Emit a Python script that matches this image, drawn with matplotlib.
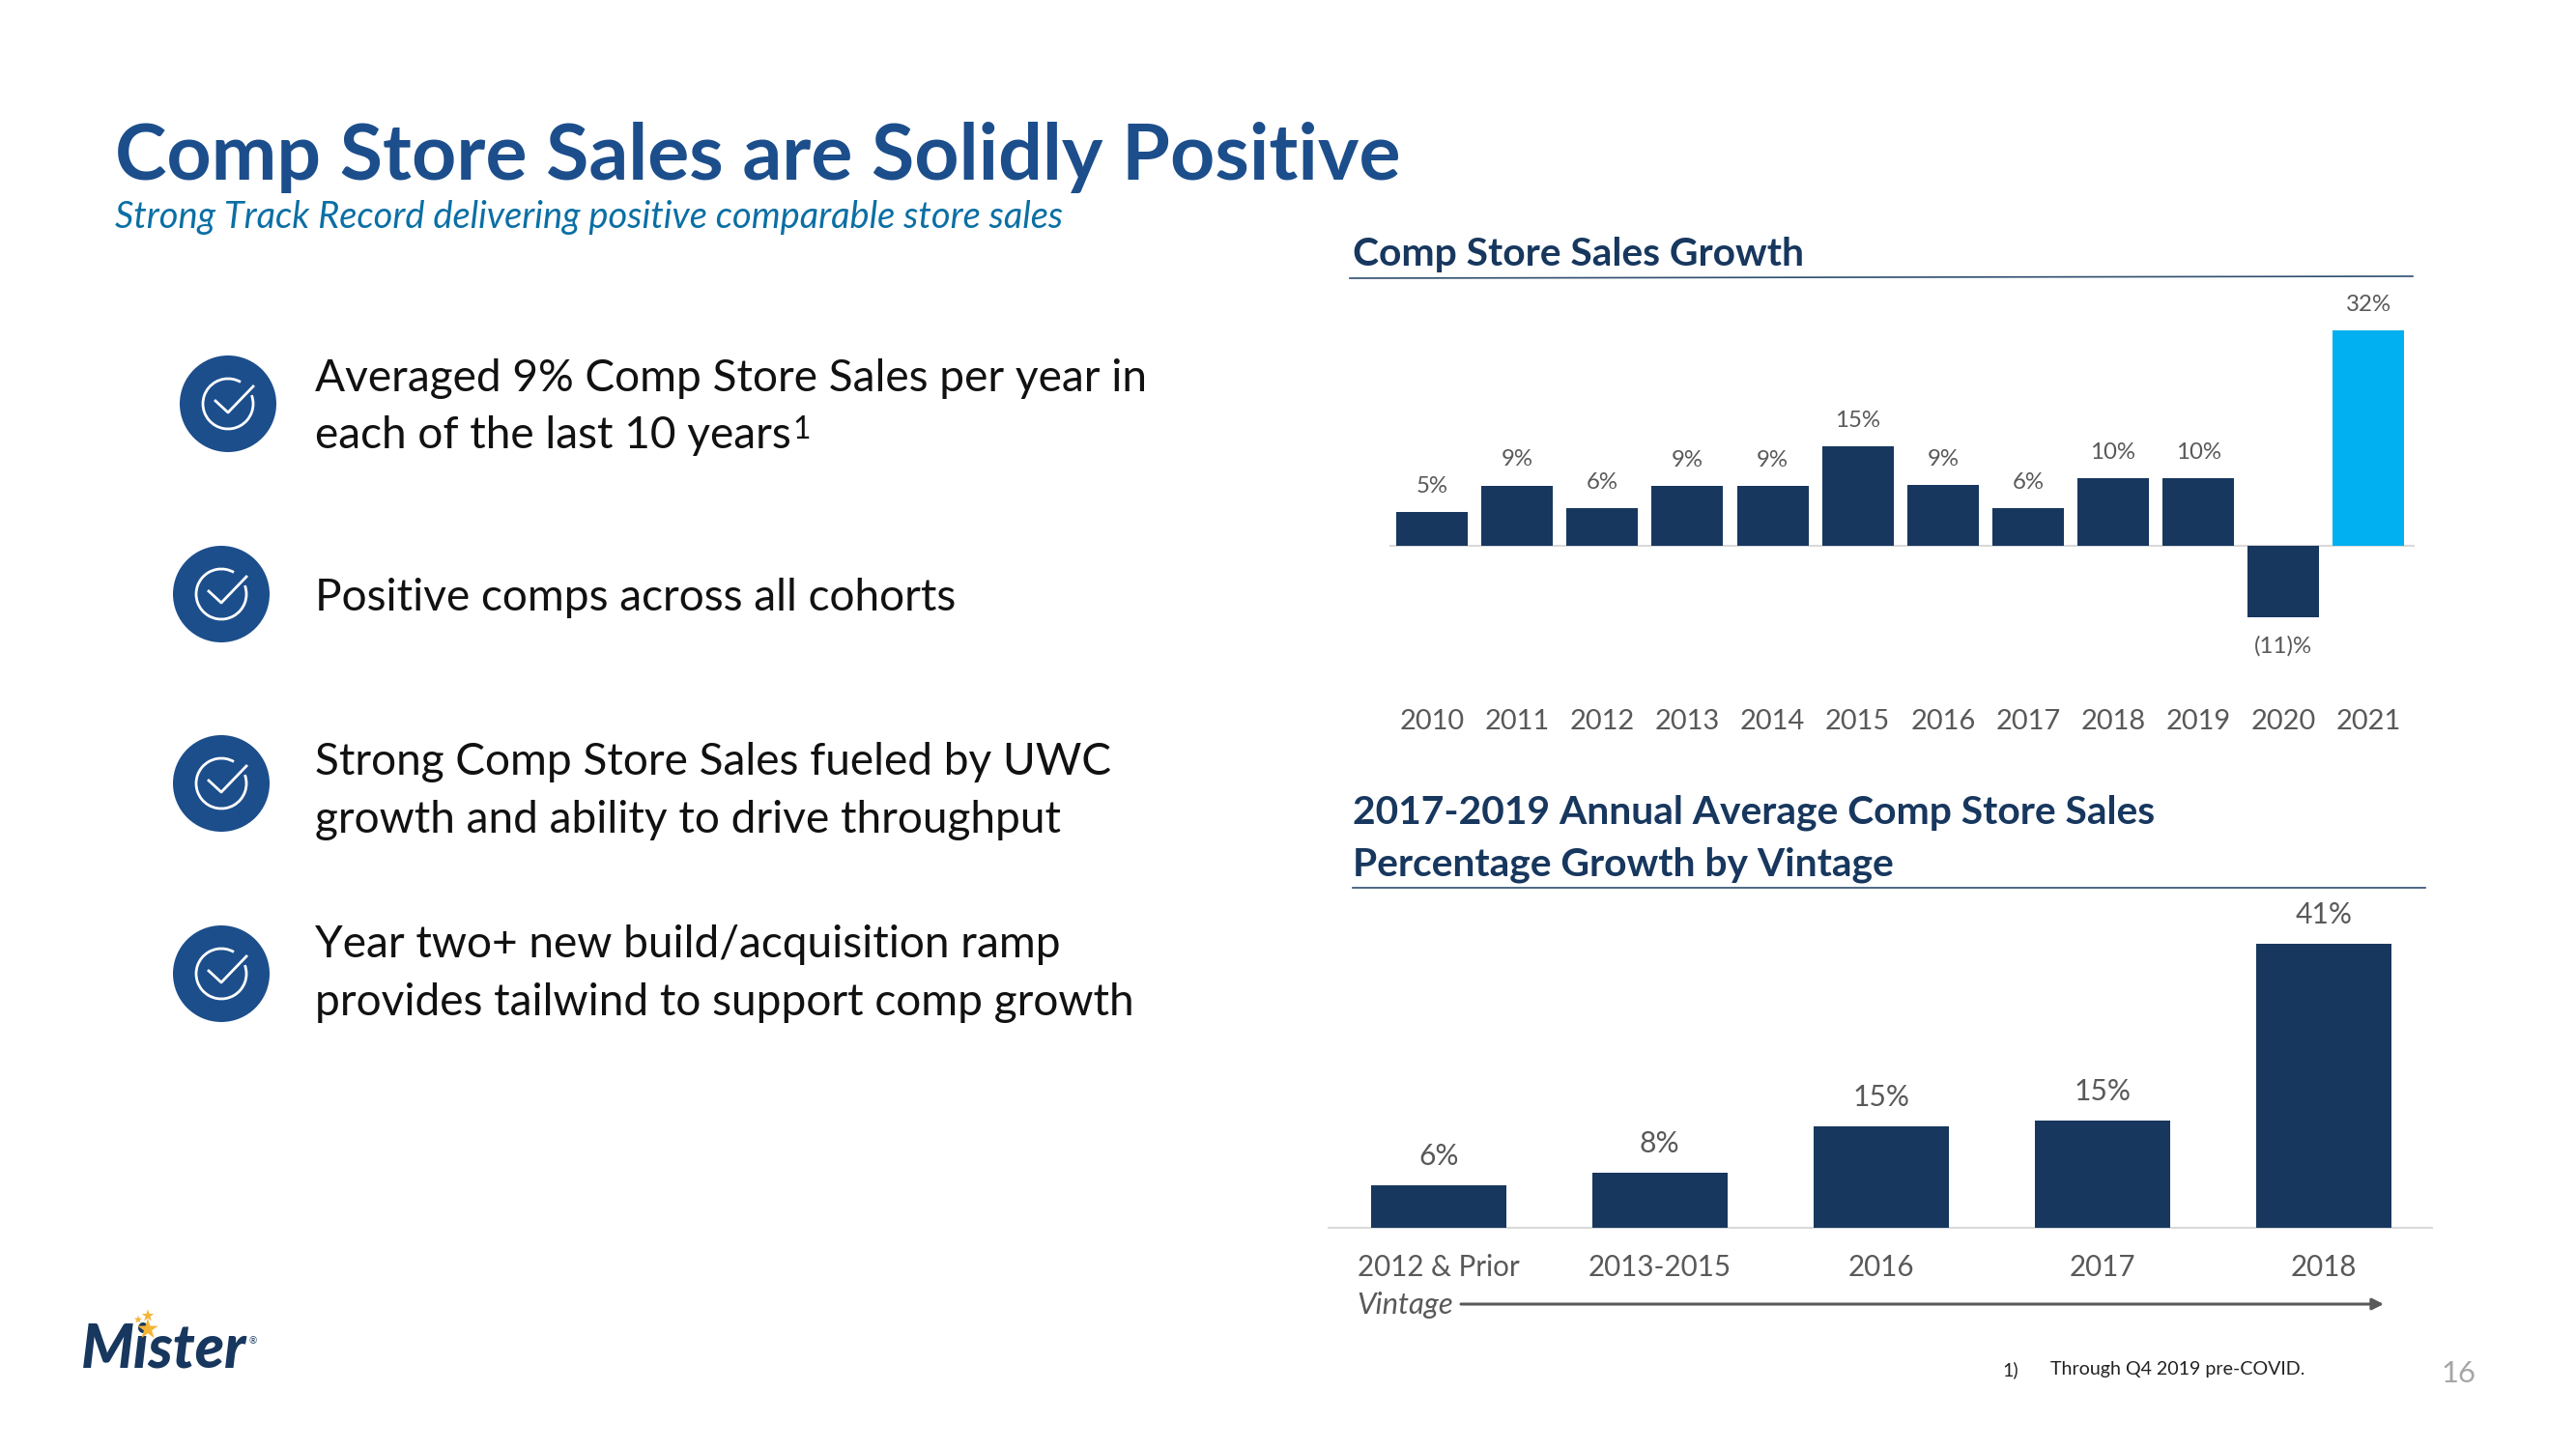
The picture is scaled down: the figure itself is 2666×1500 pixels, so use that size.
import matplotlib
matplotlib.use("Agg")
import matplotlib.pyplot as plt
from matplotlib.patches import Circle, Arc

W, H = 2666, 1500

years = ["2010", "2011", "2012", "2013", "2014", "2015", "2016", "2017", "2018", "2019", "2020", "2021"]
comp_growth = [4.9, 8.9, 5.5, 8.8, 8.8, 14.7, 9.0, 5.5, 10.0, 10.0, -10.7, 32.0]
comp_labels = ["5%", "9%", "6%", "9%", "9%", "15%", "9%", "6%", "10%", "10%", "(11)%", "32%"]

vintages = ["2012 & Prior", "2013-2015", "2016", "2017", "2018"]
vintage_growth = [6.05, 7.85, 14.6, 15.4, 41.0]
vintage_labels = ["6%", "8%", "15%", "15%", "41%"]

bullets = [
    "Averaged 9% Comp Store Sales per year in\neach of the last 10 years",
    "Positive comps across all cohorts",
    "Strong Comp Store Sales fueled by UWC\ngrowth and ability to drive throughput",
    "Year two+ new build/acquisition ramp\nprovides tailwind to support comp growth",
]

NAVY = "#17375E"
BLUE = "#1C4E8C"
SKY = "#00B0F0"
GRAY = "#595959"
AXIS = "#D9D9D9"

plt.rcParams["font.family"] = ["Lato", "DejaVu Sans"]


def px(size):
    # pixel size to points at dpi 100
    return size * 0.72


def axes_at(left, top, right, bottom):
    return fig.add_axes([left / W, 1 - bottom / H, (right - left) / W, (bottom - top) / H])


fig = plt.figure(figsize=(W / 100, H / 100), dpi=100, facecolor="white")

# page layer in pixel coordinates
page = fig.add_axes([0, 0, 1, 1])
page.set_xlim(0, W)
page.set_ylim(H, 0)
page.axis("off")

page.text(119, 186, "Comp Store Sales are Solidly Positive", fontsize=px(80.6), fontweight="bold",
          color=BLUE, va="baseline")
page.text(119, 236, "Strong Track Record delivering positive comparable store sales", fontsize=px(38),
          style="italic", color="#0B6FA4", va="baseline")

# bullets with check icons
icons = [(236, 418), (229, 615), (229, 811), (229, 1008)]
baselines = [(405, 464), (632,), (802, 862), (991, 1051)]
for (cx, cy), text, ys in zip(icons, bullets, baselines):
    page.add_patch(Circle((cx, cy), 50, color=BLUE, lw=0))
    page.add_patch(Arc((cx, cy), 52, 52, angle=0, theta1=-20, theta2=300, color="white", lw=2.0))
    page.plot([cx - 13, cx, cx + 26], [cy - 3, cy + 9, cy - 18], color="white", lw=2.0)
    for line, y in zip(text.split("\n"), ys):
        last = page.text(326, y, line, fontsize=px(46), color="#111111", va="baseline")
    if "10 years" in text:
        page.annotate("1", xy=(1, 0), xycoords=last, xytext=(1, 13), textcoords="offset points",
                      fontsize=px(32), color="#111111", va="baseline")

# section headings
page.text(1400, 275, "Comp Store Sales Growth", fontsize=px(40.8), fontweight="bold", color=NAVY,
          va="baseline")
page.plot([1397, 2497], [288, 286], color="#2F4F70", lw=1.2)
page.text(1400, 853, "2017-2019 Annual Average Comp Store Sales", fontsize=px(40.8), fontweight="bold",
          color=NAVY, va="baseline")
page.text(1400, 907, "Percentage Growth by Vintage", fontsize=px(40.8), fontweight="bold", color=NAVY,
          va="baseline")
page.plot([1400, 2510], [919, 919], color="#2F4F70", lw=1.2)

# top chart
ax1 = axes_at(1437.5, 299.5, 2499, 724.5)
colors = [NAVY] * 11 + [SKY]
ax1.bar(range(len(years)), comp_growth, width=0.84, color=colors)
ax1.set_xlim(-0.505, 11.54)
ax1.set_ylim(-160 / 6.94, 265 / 6.94)
ax1.axhline(0, color=AXIS, lw=1.5, zorder=0)
ax1.set_xticks(range(len(years)), years)
ax1.set_yticks([])
ax1.tick_params(axis="x", length=0, labelsize=px(29), labelcolor=GRAY, pad=7)
for s in ax1.spines.values():
    s.set_visible(False)
for i, (v, lab) in enumerate(zip(comp_growth, comp_labels)):
    off = 27 if v > 0 else -30
    ax1.annotate(lab, (i, v), xytext=(0, px(off)), textcoords="offset points", ha="center", va="center",
                 fontsize=px(24), color=GRAY)

# bottom chart
ax2 = axes_at(1374, 949.5, 2518, 1289.5)
ax2.bar(range(len(vintages)), vintage_growth, width=0.61, color=NAVY)
ax2.set_xlim((1374 - 1488.8) / 229, (2518 - 1488.8) / 229)
ax2.set_ylim(-19 / 7.16, 321 / 7.16)
ax2.axhline(0, color=AXIS, lw=1.5, zorder=0)
ax2.set_xticks(range(len(vintages)), vintages)
ax2.set_yticks([])
ax2.tick_params(axis="x", length=0, labelsize=px(29.5), labelcolor=GRAY, pad=6)
for s in ax2.spines.values():
    s.set_visible(False)
for i, (v, lab) in enumerate(zip(vintage_growth, vintage_labels)):
    ax2.annotate(lab, (i, v), xytext=(0, px(30)), textcoords="offset points", ha="center", va="center",
                 fontsize=px(30), color=GRAY)

# vintage arrow
page.text(1404, 1351, "Vintage", fontsize=px(31), style="italic", color=GRAY, va="center")
page.annotate("", xy=(2467, 1350), xytext=(1512, 1350),
              arrowprops=dict(arrowstyle="-|>,head_length=0.7,head_width=0.35", color=GRAY, lw=2.2,
                              shrinkA=0, shrinkB=0))

# footnote, page number
page.text(2072, 1418, "1)", fontsize=px(19.6), color="#222222", va="center")
page.text(2122, 1418, "Through Q4 2019 pre-COVID.", fontsize=px(19.6), color="#222222", va="center")
page.text(2526, 1422, "16", fontsize=px(31), color="#A6A6A6", va="center")

# logo
page.text(84, 1416, "Mister", fontsize=px(62), fontweight="black", style="italic", color=NAVY,
          va="baseline")
page.text(258, 1389, "®", fontsize=px(10), color=NAVY, va="center")
page.scatter([153, 153, 143], [1376, 1362, 1366], s=[260, 90, 40], marker="*", color="#F5B335", lw=0, zorder=5)

fig.savefig("out.png", dpi=100)
